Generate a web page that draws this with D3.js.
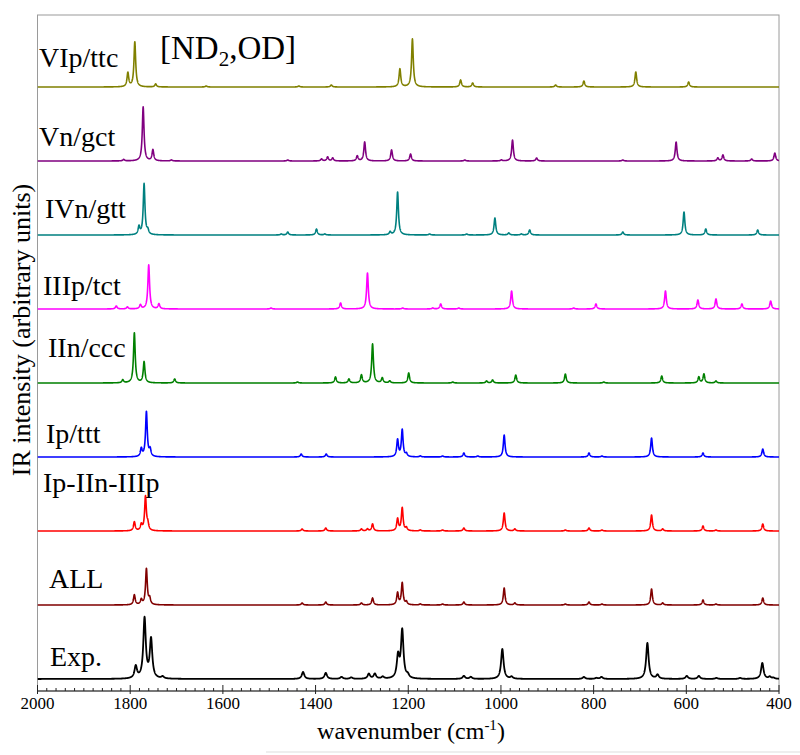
<!DOCTYPE html>
<html>
<head>
<meta charset="utf-8">
<script src="https://cdn.jsdelivr.net/npm/d3@7"></script>
<style>
body { margin: 0; background: #fff; }
text { font-family: "Liberation Serif", "Times New Roman", serif; fill: #000; }
</style>
</head>
<body>
<svg id="chart" width="800" height="755"></svg>
<script>
// spectra, bottom to top; peaks are [wavenumber, intensity]
var names = ['Exp.', 'ALL', 'Ip-IIn-IIIp', 'Ip/ttt', 'IIn/ccc', 'IIIp/tct', 'IVn/gtt', 'Vn/gct', 'VIp/ttc'];
var colors = ['#000000', '#800000', '#ff0000', '#0000ff', '#008000', '#ff00ff', '#008080', '#800080', '#808000'];

var expPeaks = [[1788,12],[1769,60],[1755,39],[1730,2],[1427,7],[1378,6],[1344,2],[1323,1.5],[1285,5],[1272,5],
	[1255,2],[1222,22],[1213,48],[1201,3],[1080,3],[1065,2],[997,30],[977,2],[821,2],[794,1],[783,2],
	[684,36],[662,4],[599,3],[573,3],[535,1],[484,1],[436,16],[420,2],[412,1]];
var allPeaks = [[1791,10],[1776,5],[1765,36],[1758,6],[1429,2],[1378,3],[1301,2],[1277,7],[1223,12],[1213,22],
	[1204,3],[1174,1],[1126,1],[1080,3],[993,17],[970,2],[861,1],[810,3],[782,1],[675,16],[651,2],
	[564,5],[536,1],[435,7]];
var mixPeaks = [[1791,9],[1776,6],[1767,34],[1762,6],[1429,2],[1378,3],[1301,2],[1288,2],[1277,7],[1223,12],
	[1213,23],[1204,3],[1174,1],[1126,1],[1080,3],[993,18],[970,2],[861,1],[810,3],[782,1],[675,16],
	[651,2],[564,5],[536,1],[435,7]];
var ipPeaks = [[1776,8],[1765,45],[1757,7],[1431,3],[1377,3],[1223,17],[1213,27],[1204,3],[1174,1],[1126,1],
	[1080,4],[1050,1],[993,22],[810,4],[782,1],[675,19],[564,4],[435,8]];
var iinPeaks = [[1816,3],[1791,50],[1770,21],[1704,4],[1439,1],[1357,6],[1328,4],[1301,8],[1277,39],[1256,5],
	[1240,2],[1199,10],[1104,1],[1031,2],[1018,3],[968,8],[861,9],[778,1],[653,7],[573,6],[562,9],[536,2]];
var iiipPeaks = [[1830,3],[1806,2],[1778,4],[1760,44],[1738,5],[1496,1],[1346,6],[1288,36],[1212,1],[1147,1],
	[1130,5],[1091,1],[977,18],[843,1],[795,5],[645,18],[575,9],[536,10],[480,5],[418,8]];
var ivnPeaks = [[1781,8],[1770,51],[1762,4],[1474,1],[1460,3],[1398,6],[1380,1],[1239,3],[1223,43],[1154,1],
	[1074,1],[1013,17],[983,2],[956,1],[938,5],[737,3],[605,23],[558,6],[446,5]];
var vnPeaks = [[1814,1.5],[1772,54],[1751,11],[1711,1],[1460,1],[1387,2],[1374,4],[1363,3],[1310,5],[1294,19],
	[1236,11],[1195,7],[1078,1],[999,1],[975,21],[923,3],[737,1],[622,19],[532,3],[521,6],[459,2],[409,8]];
var vipPeaks = [[1805,14],[1790,45],[1745,3],[1636,1],[1436,1],[1366,2],[1218,18],[1191,48],[1087,7],[1061,4],
	[882,2],[821,6],[709,15],[595,5]];
var peaks = [expPeaks, allPeaks, mixPeaks, ipPeaks, iinPeaks, iiipPeaks, ivnPeaks, vnPeaks, vipPeaks];
var halfWidths = [3.2, 2.2, 2.2, 2.2, 2.2, 2.2, 2.2, 2.2, 2.2];
var stackStep = 74;

var xTicks = [2000, 1800, 1600, 1400, 1200, 1000, 800, 600, 400];

// label spots [x, baseline y] in px
var labelPos = [[50,666],[49,588],[43,492],[46,443],[48,357],[43,295],[45,218],[39,146],[39,67]];

var svg = d3.select('#chart');
var plotL = 37.5, plotR = 779, plotT = 15, plotB = 691;

var x = d3.scaleLinear().domain([2000, 400]).range([plotL, plotR]);
var y = d3.scaleLinear().domain([-12, 664]).range([plotB, plotT]);

var grid = d3.range(2000, 399.9, -0.25);

var spectrum = function(list, g) {
	return grid.map(function(w) {
		var s = 0;
		list.forEach(function(p) {
			var d = w - p[0];
			s += p[1] * g * g / (d * d + g * g);
		});
		return [w, s];
	});
};

svg.append('rect')
	.attr('x', plotL).attr('y', plotT)
	.attr('width', plotR - plotL).attr('height', plotB - plotT)
	.attr('fill', 'none').attr('stroke', '#9a9a9a').attr('stroke-width', 1);

svg.append('clipPath').attr('id', 'clip')
	.append('rect').attr('x', plotL).attr('y', plotT)
	.attr('width', plotR - plotL).attr('height', plotB - plotT);

var line = d3.line()
	.x(function(d) { return x(d[0]); })
	.y(function(d) { return y(d[1]); });

peaks.forEach(function(list, i) {
	var off = i * stackStep;
	var pts = spectrum(list, halfWidths[i]).map(function(d) { return [d[0], off + d[1]]; });
	svg.append('path')
		.attr('clip-path', 'url(#clip)')
		.attr('d', line(pts))
		.attr('fill', 'none')
		.attr('stroke', colors[i])
		.attr('stroke-width', i == 0 ? 1.8 : 1.6)
		.attr('stroke-linejoin', 'round');
	svg.append('text')
		.attr('x', labelPos[i][0]).attr('y', labelPos[i][1])
		.attr('font-size', 28)
		.text(names[i]);
});

// bottom axis
var axis = svg.append('g').attr('transform', 'translate(0,' + plotB + ')');
axis.append('line').attr('x1', plotL).attr('x2', plotR).attr('stroke', '#222').attr('stroke-width', 1.2);
d3.range(2000, 399, -20).forEach(function(w) {
	var major = w % 200 == 0;
	axis.append('line')
		.attr('x1', x(w)).attr('x2', x(w))
		.attr('y1', major ? -6 : -3).attr('y2', major ? 3 : 0)
		.attr('stroke', '#222').attr('stroke-width', 1);
});
xTicks.forEach(function(t) {
	axis.append('text')
		.attr('x', x(t)).attr('y', 18)
		.attr('text-anchor', 'middle')
		.attr('font-size', 17)
		.text(t);
});

var xl = svg.append('text')
	.attr('x', 411).attr('y', 739)
	.attr('text-anchor', 'middle')
	.attr('font-size', 24);
xl.append('tspan').text('wavenumber (cm');
xl.append('tspan').attr('font-size', 15).attr('dy', -9).text('-1');
xl.append('tspan').attr('dy', 9).text(')');

svg.append('text')
	.attr('transform', 'translate(30,330) rotate(-90)')
	.attr('text-anchor', 'middle')
	.attr('font-size', 26)
	.text('IR intensity (arbitrary units)');

var title = svg.append('text')
	.attr('x', 160).attr('y', 59)
	.attr('font-size', 33);
title.append('tspan').text('[ND');
title.append('tspan').attr('font-size', 21).attr('dy', 7).text('2');
title.append('tspan').attr('dy', -7).text(',OD]');

svg.append('line')
	.attr('x1', 266).attr('x2', 800).attr('y1', 752).attr('y2', 752)
	.attr('stroke', '#dddddd').attr('stroke-width', 1);
</script>
</body>
</html>
